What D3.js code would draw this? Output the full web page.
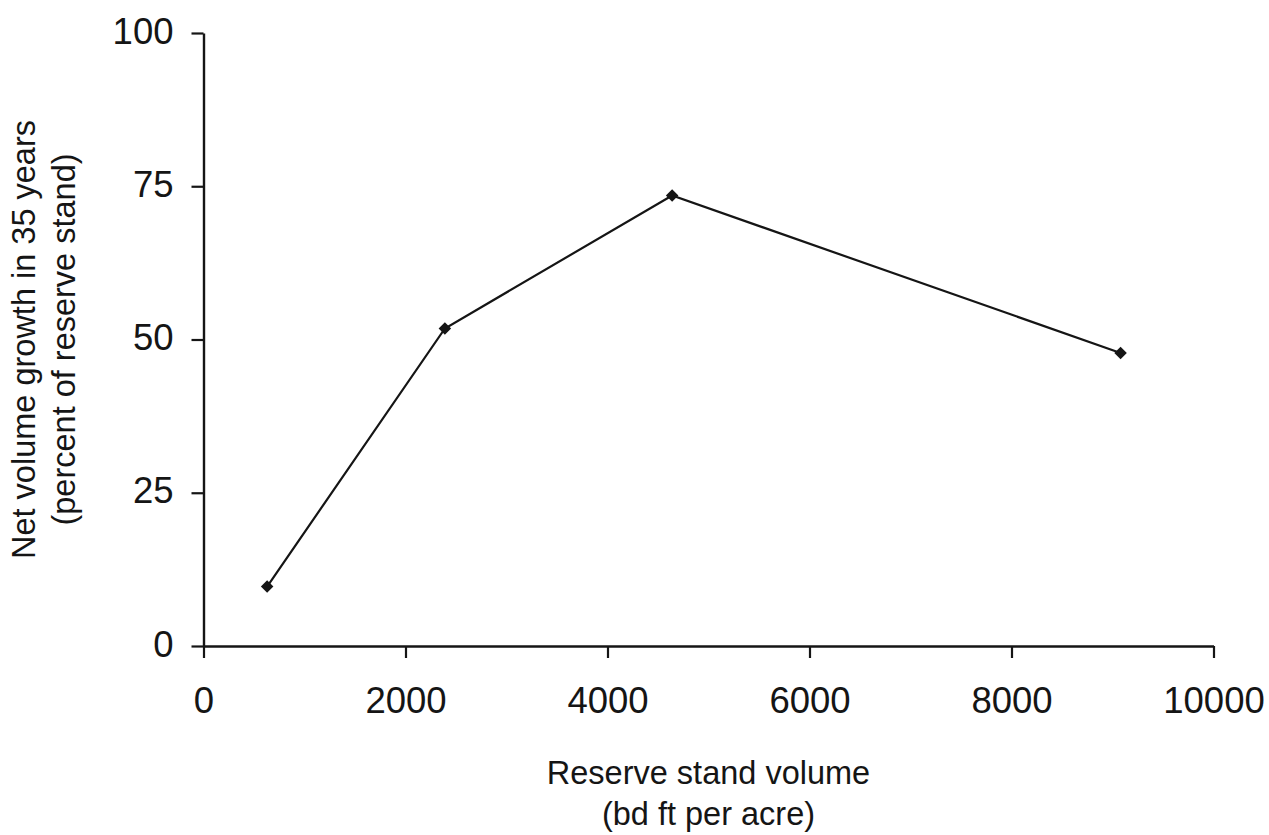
<!DOCTYPE html>
<html>
<head>
<meta charset="utf-8">
<script src="https://cdn.jsdelivr.net/npm/d3@7"></script>
<style>
  html, body { margin: 0; padding: 0; background: #fff; }
  svg { display: block; }
  text { font-family: "Liberation Sans", Arial, sans-serif; fill: #151515; }
</style>
</head>
<body>
<script>
const standVolume = [630, 2390, 4640, 9080];
const netGrowth = [9.7, 51.8, 73.5, 47.8];
const xTicks = [0, 2000, 4000, 6000, 8000, 10000];
const yTicks = [0, 25, 50, 75, 100];
const xTitle = ["Reserve stand volume", "(bd ft per acre)"];
const yTitle = ["Net volume growth in 35 years", "(percent of reserve stand)"];

const W = 1269, H = 835;
const svg = d3.select("body").append("svg").attr("width", W).attr("height", H);

const x = d3.scaleLinear().domain([0, 10000]).range([203.5, 1213.5]);
const y = d3.scaleLinear().domain([0, 100]).range([646, 33]);

const ink = "#151515";

// X axis
const gx = svg.append("g").attr("transform", `translate(0,${y(0)})`)
  .call(d3.axisBottom(x).tickValues(xTicks).tickFormat(d3.format("d")).tickSize(12).tickSizeOuter(0).tickPadding(29));
gx.select(".domain").attr("stroke", ink).attr("stroke-width", 2.4);
gx.selectAll(".tick line").attr("stroke", ink).attr("stroke-width", 2.2);
gx.selectAll(".tick text").attr("font-size", 36.5).attr("font-family", "Liberation Sans, Arial, sans-serif").attr("fill", ink);

// Y axis
const gy = svg.append("g").attr("transform", `translate(${x(0)},0)`)
  .call(d3.axisLeft(y).tickValues(yTicks).tickFormat(d3.format("d")).tickSize(12).tickSizeOuter(0).tickPadding(18));
gy.select(".domain").attr("stroke", ink).attr("stroke-width", 2.4);
gy.selectAll(".tick line").attr("stroke", ink).attr("stroke-width", 2.2);
gy.selectAll(".tick text").attr("font-size", 36.5).attr("font-family", "Liberation Sans, Arial, sans-serif").attr("fill", ink).attr("dy", "0.28em");

// Line
const pts = standVolume.map((v, i) => [v, netGrowth[i]]);
svg.append("path")
  .datum(pts)
  .attr("fill", "none")
  .attr("stroke", ink)
  .attr("stroke-width", 2.2)
  .attr("d", d3.line().x(d => x(d[0])).y(d => y(d[1])));

// Markers
const diamond = d3.symbol().type(d3.symbolSquare).size(78);
svg.selectAll(".pt").data(pts).enter().append("path")
  .attr("class", "pt")
  .attr("fill", ink)
  .attr("d", diamond)
  .attr("transform", d => `translate(${x(d[0])},${y(d[1])}) rotate(45)`);

// X title
const xc = (x(0) + x(10000)) / 2;
svg.selectAll(".xt").data(xTitle).enter().append("text")
  .attr("class", "xt")
  .attr("x", xc)
  .attr("y", (d, i) => 784 + i * 41)
  .attr("text-anchor", "middle")
  .attr("font-size", 32.5)
  .text(d => d);

// Y title
const yc = (y(0) + y(100)) / 2;
svg.selectAll(".yt").data(yTitle).enter().append("text")
  .attr("class", "yt")
  .attr("transform", (d, i) => `translate(${35 + i * 40},${yc}) rotate(-90)`)
  .attr("text-anchor", "middle")
  .attr("font-size", 32.5)
  .text(d => d);
</script>
</body>
</html>
